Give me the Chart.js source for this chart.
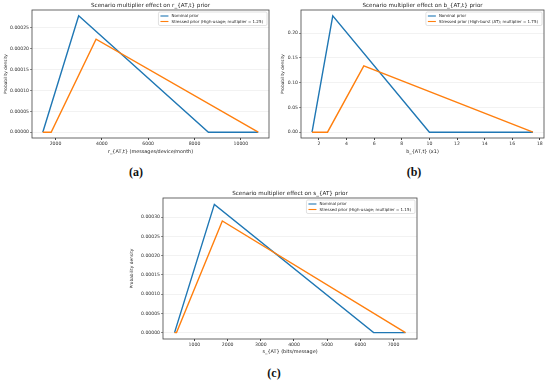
<!DOCTYPE html>
<html>
<head>
<meta charset="utf-8">
<script src="https://cdn.jsdelivr.net/npm/chart.js@4.4.0/dist/chart.umd.min.js"></script>
<style>
    body { margin: 0; background: #fff; }
    #page { position: relative; width: 550px; height: 382px; background: #fff; overflow: hidden; }
    canvas { position: absolute; }
    .lettre { position: absolute; font-family: "Liberation Serif", "DejaVu Serif", serif; font-weight: bold;
              font-size: 12px; line-height: 1; color: #111; transform: translateX(-50%); }
</style>
</head>
<body>
<div id="page">
    <canvas id="graphA" width="275" height="160" style="left:0;top:0"></canvas>
    <canvas id="graphB" width="275" height="160" style="left:275px;top:0"></canvas>
    <canvas id="graphC" width="305" height="175" style="left:120px;top:185px"></canvas>
    <div class="lettre" style="left:136px;top:166px">(a)</div>
    <div class="lettre" style="left:414px;top:166px">(b)</div>
    <div class="lettre" style="left:274px;top:367px">(c)</div>
</div>
<script>
// Données des trois graphiques (sommets des densités triangulaires)

// (a) r_{AT,t}
const xNominalA = [1450, 3000, 8600, 10750];
const yNominalA = [0, 0.000279, 0, 0];
const xStresseA = [1450, 1812, 3750, 10750];
const yStresseA = [0, 0, 0.000223, 0];
const ticksXA = [2000, 4000, 6000, 8000, 10000];
const ticksYA = [0, 0.00005, 0.0001, 0.00015, 0.0002, 0.00025];

// (b) b_{AT,t}
const xNominalB = [1.5, 3, 10, 17.5];
const yNominalB = [0, 0.235, 0, 0];
const xStresseB = [1.5, 2.62, 5.25, 17.5];
const yStresseB = [0, 0, 0.134, 0];
const ticksXB = [2, 4, 6, 8, 10, 12, 14, 16, 18];
const ticksYB = [0, 0.05, 0.1, 0.15, 0.2];

// (c) s_{AT}
const xNominalC = [400, 1600, 6400, 7360];
const yNominalC = [0, 0.000333, 0, 0];
const xStresseC = [400, 460, 1840, 7360];
const yStresseC = [0, 0, 0.00029, 0];
const ticksXC = [1000, 2000, 3000, 4000, 5000, 6000, 7000];
const ticksYC = [0, 0.00005, 0.0001, 0.00015, 0.0002, 0.00025, 0.0003];

const bleu = '#1f77b4';
const orange = '#ff7f0e';
const police = '"DejaVu Sans", sans-serif';

//****************************************************************
// Plugin : cadre, titre et légende dans la zone du graphique
const pluginCadre = {
    id: 'cadre',
    afterDraw(chart, args, opts) {
        const ctx = chart.ctx;
        const a = chart.chartArea;
        ctx.save();
        ctx.strokeStyle = '#444';
        ctx.lineWidth = 0.8;
        ctx.strokeRect(a.left, a.top, a.right - a.left, a.bottom - a.top);

        // titre
        ctx.fillStyle = '#222';
        ctx.font = '5.6px ' + police;
        ctx.textAlign = 'center';
        ctx.textBaseline = 'bottom';
        ctx.fillText(opts.titre, (a.left + a.right) / 2, a.top - 1.8);

        // légende
        ctx.font = '4px ' + police;
        ctx.textAlign = 'left';
        ctx.textBaseline = 'middle';
        const labels = opts.labels;
        let largeur = 0;
        for (let i = 0; i < labels.length; i++) {
            largeur = Math.max(largeur, ctx.measureText(labels[i]).width);
        }
        const w = largeur + 17;
        const h = labels.length * 5.5 + 2.5;
        const x0 = a.right - 2 - w;
        const y0 = a.top + 2;
        ctx.fillStyle = 'rgba(255,255,255,0.85)';
        ctx.strokeStyle = '#ccc';
        ctx.lineWidth = 0.6;
        ctx.beginPath();
        ctx.roundRect(x0, y0, w, h, 1.5);
        ctx.fill();
        ctx.stroke();
        const couleurs = [bleu, orange];
        for (let i = 0; i < labels.length; i++) {
            const y = y0 + 4 + i * 5.5;
            ctx.strokeStyle = couleurs[i];
            ctx.lineWidth = 1.1;
            ctx.beginPath();
            ctx.moveTo(x0 + 2, y);
            ctx.lineTo(x0 + 10, y);
            ctx.stroke();
            ctx.fillStyle = '#222';
            ctx.fillText(labels[i], x0 + 13, y);
        }
        ctx.restore();
    }
};

// Bornes avec 5 % de marge, comme l'autoscale de matplotlib
function bornes(listes) {
    let min = Infinity, max = -Infinity;
    for (let i = 0; i < listes.length; i++) {
        min = Math.min(min, ...listes[i]);
        max = Math.max(max, ...listes[i]);
    }
    const marge = (max - min) * 0.05;
    return { min: min - marge, max: max + marge };
}

function points(xs, ys) {
    const res = [];
    for (let i = 0; i < xs.length; i++) {
        res.push({ x: xs[i], y: ys[i] });
    }
    return res;
}

function creerGraphique(idCanvas, p) {
    const bx = bornes([p.xNominal, p.xStresse]);
    const by = bornes([p.yNominal, p.yStresse]);

    const data = {
        datasets: [{
            label: 'Nominal prior',
            data: points(p.xNominal, p.yNominal),
            borderColor: bleu,
            borderWidth: 1.4,
            pointRadius: 0,
            order: 1
        }, {
            label: p.labelStresse,
            data: points(p.xStresse, p.yStresse),
            borderColor: orange,
            borderWidth: 1.4,
            pointRadius: 0,
            order: 0
        }]
    };

    const config = {
        type: 'line',
        data,
        plugins: [pluginCadre],
        options: {
            responsive: false,
            animation: false,
            layout: { padding: { top: p.haut, right: p.droite, left: 0, bottom: 0 } },
            plugins: {
                legend: { display: false },
                tooltip: { enabled: false },
                cadre: { titre: p.titre, labels: ['Nominal prior', p.labelStresse] }
            },
            scales: {
                x: {
                    type: 'linear',
                    min: bx.min,
                    max: bx.max,
                    afterBuildTicks: function (s) { s.ticks = p.ticksX.map(v => ({ value: v })); },
                    afterFit: function (s) { s.height = p.hauteurX; },
                    border: { display: false },
                    grid: { drawOnChartArea: false, tickLength: 2, color: '#444' },
                    ticks: { font: { family: police, size: 4.6 }, color: '#333', padding: 1.5, maxRotation: 0, autoSkip: false,
                             callback: v => String(v) },
                    title: { display: true, text: p.labelX, font: { family: police, size: 4.9 }, color: '#222',
                             padding: { top: 0, bottom: 5 } }
                },
                y: {
                    type: 'linear',
                    min: by.min,
                    max: by.max,
                    afterBuildTicks: function (s) { s.ticks = p.ticksY.map(v => ({ value: v })); },
                    afterFit: function (s) { s.width = p.largeurY; },
                    border: { display: false },
                    grid: { color: 'rgba(0,0,0,0.09)', tickColor: '#444', tickLength: 2, lineWidth: 0.6 },
                    ticks: { font: { family: police, size: 4.6 }, color: '#333', padding: 1, autoSkip: false,
                             callback: v => v.toFixed(p.decimales) },
                    title: { display: true, text: 'Probability density', font: { family: police, size: 4.3 }, color: '#222',
                             padding: { top: p.padTitreY, bottom: 0 } }
                }
            }
        }
    };
    return new Chart(document.getElementById(idCanvas), config);
}

creerGraphique('graphA', {
    xNominal: xNominalA, yNominal: yNominalA, xStresse: xStresseA, yStresse: yStresseA,
    ticksX: ticksXA, ticksY: ticksYA, decimales: 5,
    titre: 'Scenario multiplier effect on r_{AT,t} prior',
    labelStresse: 'Stressed prior (High-usage; multiplier = 1.25)',
    labelX: 'r_{AT,t} (messages/device/month)',
    haut: 10, droite: 6, largeurY: 32, hauteurX: 22, padTitreY: 3.5
});

creerGraphique('graphB', {
    xNominal: xNominalB, yNominal: yNominalB, xStresse: xStresseB, yStresse: yStresseB,
    ticksX: ticksXB, ticksY: ticksYB, decimales: 2,
    titre: 'Scenario multiplier effect on b_{AT,t} prior',
    labelStresse: 'Stressed prior (High-burst (AT); multiplier = 1.75)',
    labelX: 'b_{AT,t} (x1)',
    haut: 10, droite: 6, largeurY: 26, hauteurX: 22, padTitreY: 5.5
});

creerGraphique('graphC', {
    xNominal: xNominalC, yNominal: yNominalC, xStresse: xStresseC, yStresse: yStresseC,
    ticksX: ticksXC, ticksY: ticksYC, decimales: 5,
    titre: 'Scenario multiplier effect on s_{AT} prior',
    labelStresse: 'Stressed prior (High-usage; multiplier = 1.15)',
    labelX: 's_{AT} (bits/message)',
    haut: 13, droite: 8, largeurY: 43, hauteurX: 21, padTitreY: 9.5
});
</script>
</body>
</html>
